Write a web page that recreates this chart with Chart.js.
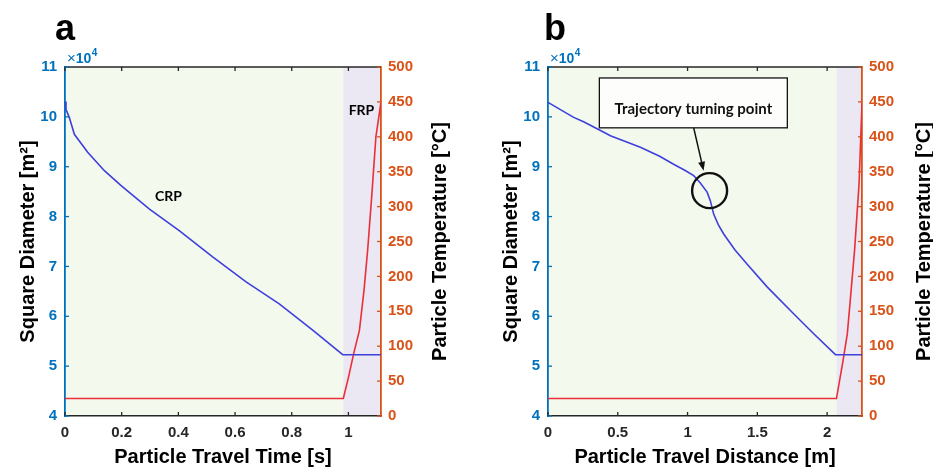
<!DOCTYPE html>
<html><head><meta charset="utf-8">
<script src="https://cdn.jsdelivr.net/npm/chart.js@4"></script>
<style>
html,body{margin:0;padding:0;background:#fff;}
#wrap{position:relative;width:933px;height:468px;overflow:hidden;background:#fff;}
canvas{position:absolute;top:0;}
</style></head><body>
<div id="wrap">
<canvas id="ca" width="466" height="468" style="left:0"></canvas>
<canvas id="cb" width="467" height="468" style="left:466px"></canvas>
</div>
<script>
// ---------- Panel a: vs particle travel time [s] ----------
const timeA = [0, 0.0035, 0.015, 0.033, 0.08, 0.139, 0.198, 0.298, 0.403, 0.521, 0.639, 0.756, 0.874, 0.98, 1.115];
const diamA = [10.31, 10.15, 9.99, 9.65, 9.29, 8.92, 8.62, 8.15, 7.72, 7.19, 6.69, 6.25, 5.72, 5.23, 5.23]; // x10^4 m^2
const timeTA = [0, 0.982, 1.0, 1.019, 1.039, 1.055, 1.068, 1.083, 1.097, 1.115];
const tempA = [25, 25, 55, 90, 123, 180, 238, 319, 400, 450]; // deg C
const frpStartA = 0.982;
const xMaxA = 1.115;
const xTicksA = [0, 0.2, 0.4, 0.6, 0.8, 1];
const xTickLabelsA = ['0', '0.2', '0.4', '0.6', '0.8', '1'];

// ---------- Panel b: vs particle travel distance [m] ----------
const distB = [0, 0.184, 0.255, 0.40, 0.447, 0.662, 0.80, 0.90, 0.98, 1.044, 1.09, 1.14, 1.163, 1.187, 1.22, 1.259, 1.34, 1.426, 1.57, 1.76, 1.904, 2.06, 2.25];
const diamB = [10.29, 9.99, 9.90, 9.69, 9.62, 9.39, 9.21, 9.05, 8.93, 8.82, 8.68, 8.49, 8.32, 8.05, 7.84, 7.65, 7.33, 7.05, 6.59, 6.05, 5.65, 5.23, 5.23];
const distTB = [0, 2.067, 2.113, 2.145, 2.166, 2.197, 2.229, 2.25];
const tempB = [25, 25, 78, 118, 166, 238, 333, 448];
const frpStartB = 2.067;
const xMaxB = 2.25;
const xTicksB = [0, 0.5, 1, 1.5, 2];
const xTickLabelsB = ['0', '0.5', '1', '1.5', '2'];

// ---------- shared axes ----------
const yTicks = [4, 5, 6, 7, 8, 9, 10, 11];
const y1Ticks = [0, 50, 100, 150, 200, 250, 300, 350, 400, 450, 500];

const COL = {
  blueAxis: '#0072BD', orangeAxis: '#D95319', blueLine: '#3f3fdc', redLine: '#ea2f38',
  crpBg: '#f4f9ee', frpBg: '#ebe7f3', dark: '#262626'
};
const FONT = '"Liberation Sans", Arial, Helvetica, sans-serif';
const CAL = 'Lato, "Open Sans", sans-serif';

const deco = {
  id: 'deco',
  beforeDraw(chart, args, o) {
    const {ctx, chartArea: a, scales: {x}} = chart;
    const xs = x.getPixelForValue(o.frpStart);
    ctx.save();
    ctx.fillStyle = COL.crpBg; ctx.fillRect(a.left, a.top, xs - a.left, a.bottom - a.top);
    ctx.fillStyle = COL.frpBg; ctx.fillRect(xs, a.top, a.right - xs, a.bottom - a.top);
    ctx.restore();
  },
  afterDraw(chart, args, o) {
    const {ctx, chartArea: a, scales: {x, y, y1}} = chart;
    ctx.save();
    ctx.strokeStyle = COL.dark; ctx.lineWidth = 1.5;
    ctx.beginPath(); ctx.moveTo(a.left, a.top); ctx.lineTo(a.right, a.top); ctx.stroke();
    ctx.lineWidth = 1.3;
    o.xTicks.forEach(v => {
      const px = x.getPixelForValue(v);
      ctx.beginPath(); ctx.moveTo(px, a.bottom); ctx.lineTo(px, a.bottom - 4);
      ctx.moveTo(px, a.top); ctx.lineTo(px, a.top + 4); ctx.stroke();
    });
    ctx.strokeStyle = COL.blueAxis;
    yTicks.forEach(v => {
      const py = y.getPixelForValue(v);
      ctx.beginPath(); ctx.moveTo(a.left, py); ctx.lineTo(a.left + 4, py); ctx.stroke();
    });
    ctx.strokeStyle = COL.orangeAxis;
    y1Ticks.forEach(v => {
      const py = y1.getPixelForValue(v);
      ctx.beginPath(); ctx.moveTo(a.right, py); ctx.lineTo(a.right - 4, py); ctx.stroke();
    });
    ctx.fillStyle = '#000'; ctx.textAlign = 'left'; ctx.textBaseline = 'alphabetic';
    ctx.font = 'bold 36px ' + FONT;
    ctx.fillText(o.letter, o.letterX, 40);
    ctx.fillStyle = COL.blueAxis;
    let cx = a.left + 2;
    ctx.font = '15px ' + FONT; ctx.fillText('×', cx, 63); cx += ctx.measureText('×').width;
    ctx.font = 'bold 14px ' + FONT; ctx.fillText('10', cx, 63); cx += ctx.measureText('10').width + 0.5;
    ctx.font = 'bold 10px ' + FONT; ctx.fillText('4', cx, 56);
    ctx.fillStyle = '#000';
    ctx.font = 'bold 20px ' + FONT;
    ctx.textAlign = 'center';
    ctx.fillText(o.xTitle, (a.left + a.right) / 2, 463);
    const cy = (a.top + a.bottom) / 2;
    [[o.yTitleX, 'Square Diameter [m²]'], [o.y1TitleX, 'Particle Temperature [°C]']].forEach(([tx, t]) => {
      ctx.save(); ctx.translate(tx, cy); ctx.rotate(-Math.PI / 2);
      ctx.fillText(t, 0, 0); ctx.restore();
    });
    ctx.font = 'bold 14px ' + CAL;
    o.labels.forEach(l => ctx.fillText(l.text, x.getPixelForValue(l.x), y.getPixelForValue(l.y)));
    if (o.note) {
      const n = o.note;
      const bx0 = x.getPixelForValue(n.box[0]), bx1 = x.getPixelForValue(n.box[1]);
      const by0 = y.getPixelForValue(n.box[2]), by1 = y.getPixelForValue(n.box[3]);
      ctx.fillStyle = '#fdfefc'; ctx.fillRect(bx0, by0, bx1 - bx0, by1 - by0);
      ctx.strokeStyle = '#111'; ctx.lineWidth = 1.3; ctx.strokeRect(bx0, by0, bx1 - bx0, by1 - by0);
      ctx.fillStyle = '#111'; ctx.font = 'bold 15px ' + CAL;
      ctx.fillText(n.text, (bx0 + bx1) / 2, by0 + 36);
      const ax0 = x.getPixelForValue(n.arrow[0]), ay0 = y.getPixelForValue(n.arrow[1]);
      const ax1 = x.getPixelForValue(n.arrow[2]), ay1 = y.getPixelForValue(n.arrow[3]);
      const ang = Math.atan2(ay1 - ay0, ax1 - ax0);
      ctx.lineWidth = 1.5;
      ctx.beginPath(); ctx.moveTo(ax0, ay0); ctx.lineTo(ax1 - 7 * Math.cos(ang), ay1 - 7 * Math.sin(ang)); ctx.stroke();
      ctx.beginPath(); ctx.moveTo(ax1, ay1);
      ctx.lineTo(ax1 - 9 * Math.cos(ang) + 3.5 * Math.sin(ang), ay1 - 9 * Math.sin(ang) - 3.5 * Math.cos(ang));
      ctx.lineTo(ax1 - 9 * Math.cos(ang) - 3.5 * Math.sin(ang), ay1 - 9 * Math.sin(ang) + 3.5 * Math.cos(ang));
      ctx.closePath(); ctx.fill();
      ctx.lineWidth = 2.4;
      ctx.beginPath(); ctx.arc(x.getPixelForValue(n.circle[0]), y.getPixelForValue(n.circle[1]), 17.5, 0, Math.PI * 2); ctx.stroke();
    }
    ctx.restore();
  }
};

function makeChart(id, cfg) {
  const pts = (xs, ys) => xs.map((v, i) => ({x: v, y: ys[i]}));
  return new Chart(document.getElementById(id), {
    type: 'line',
    data: {
      datasets: [
        {data: pts(cfg.xd, cfg.yd), yAxisID: 'y', borderColor: COL.blueLine, borderWidth: 1.6, pointRadius: 0, tension: 0, fill: false},
        {data: pts(cfg.xt, cfg.yt), yAxisID: 'y1', borderColor: COL.redLine, borderWidth: 1.6, pointRadius: 0, tension: 0, fill: false}
      ]
    },
    options: {
      responsive: false, animation: false, devicePixelRatio: 1,
      layout: {padding: {top: 67, left: 0, right: 0, bottom: 0}},
      plugins: {legend: {display: false}, tooltip: {enabled: false}, deco: cfg.deco},
      scales: {
        x: {
          type: 'linear', min: 0, max: cfg.xMax,
          grid: {display: false, drawTicks: false},
          border: {display: true, color: COL.dark, width: 1.5},
          ticks: {padding: 8, color: COL.dark, font: {family: FONT, size: 15, weight: 'bold'},
                  callback: (v) => { const i = cfg.xTicks.indexOf(v); return i >= 0 ? cfg.xLabels[i] : ''; }},
          afterBuildTicks: s => { s.ticks = cfg.xTicks.map(v => ({value: v})); },
          afterFit: s => { s.height = 52; }
        },
        y: {
          type: 'linear', position: 'left', min: 4, max: 11,
          grid: {display: false, drawTicks: false},
          border: {display: true, color: COL.blueAxis, width: 1.8},
          ticks: {padding: 8, color: COL.blueAxis, font: {family: FONT, size: 15, weight: 'bold'}},
          afterBuildTicks: s => { s.ticks = yTicks.map(v => ({value: v})); },
          afterFit: s => { s.width = cfg.yW; }
        },
        y1: {
          type: 'linear', position: 'right', min: 0, max: 500,
          grid: {display: false, drawTicks: false},
          border: {display: true, color: COL.orangeAxis, width: 1.8},
          ticks: {padding: 7, color: COL.orangeAxis, font: {family: FONT, size: 15, weight: 'bold'}},
          afterBuildTicks: s => { s.ticks = y1Ticks.map(v => ({value: v})); },
          afterFit: s => { s.width = cfg.y1W; }
        }
      }
    },
    plugins: [deco]
  });
}

makeChart('ca', {
  xd: timeA, yd: diamA, xt: timeTA, yt: tempA, xMax: xMaxA, xTicks: xTicksA, xLabels: xTickLabelsA,
  yW: 65, y1W: 85,
  deco: {frpStart: frpStartA, xTicks: xTicksA, letter: 'a', letterX: 55, xTitle: 'Particle Travel Time [s]',
         yTitleX: 34, y1TitleX: 446,
         labels: [{text: 'CRP', x: 0.365, y: 8.32}, {text: 'FRP', x: 1.046, y: 10.04}]}
});
makeChart('cb', {
  xd: distB, yd: diamB, xt: distTB, yt: tempB, xMax: xMaxB, xTicks: xTicksB, xLabels: xTickLabelsB,
  yW: 82, y1W: 71,
  deco: {frpStart: frpStartB, xTicks: xTicksB, letter: 'b', letterX: 78, xTitle: 'Particle Travel Distance [m]',
         yTitleX: 51, y1TitleX: 464, labels: [],
         note: {text: 'Trajectory turning point', box: [0.368, 1.715, 10.78, 9.78],
                arrow: [1.044, 9.78, 1.115, 8.92], circle: [1.158, 8.52]}}
});
</script>
</body></html>
